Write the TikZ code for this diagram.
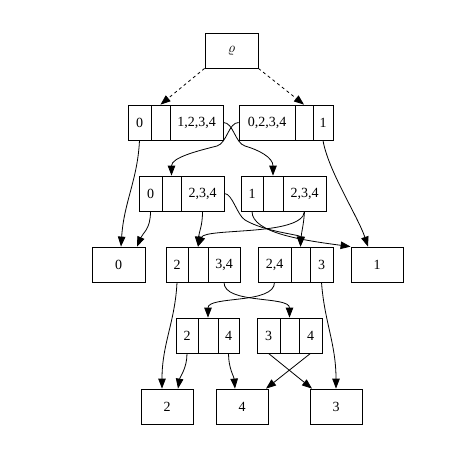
\documentclass[tikz,border=0pt]{standalone}
\usepackage{fontspec}
\setmainfont{Liberation Serif}
\usetikzlibrary{arrows.meta}

\begin{document}
\begin{tikzpicture}[
    x=1pt, y=1pt,
    >={Triangle[length=10pt,width=7.5pt]},
    field/.style={draw, line width=0.8pt, minimum height=35pt, inner sep=0pt,
        font=\fontsize{14}{16}\selectfont},
    edge/.style={->, line width=0.8pt}
]
    \useasboundingbox (0,0) rectangle (476,-455);

    % Root
    \node[field, minimum width=53pt] (root) at (231.5,-50.5) {$\varrho$};

    % Level 1 records
    \node[field, minimum width=23pt] (L1a-0) at (139.5,-122.5) {0};
    \node[field, minimum width=19pt] (L1a-e) at (160.5,-122.5) {};
    \node[field, minimum width=53pt] (L1a-2) at (196.5,-122.5) {1,2,3,4};
    \node[field, minimum width=56pt] (L1b-0) at (267,-122.5) {0,2,3,4};
    \node[field, minimum width=18pt] (L1b-e) at (304,-122.5) {};
    \node[field, minimum width=20pt] (L1b-2) at (323,-122.5) {1};

    % Level 2 records
    \node[field, minimum width=23pt] (L2a-0) at (150.5,-193.5) {0};
    \node[field, minimum width=19pt] (L2a-e) at (171.5,-193.5) {};
    \node[field, minimum width=43pt] (L2a-2) at (202.5,-193.5) {2,3,4};
    \node[field, minimum width=22pt] (L2b-0) at (252,-193.5) {1};
    \node[field, minimum width=20pt] (L2b-e) at (273,-193.5) {};
    \node[field, minimum width=43pt] (L2b-2) at (304.5,-193.5) {2,3,4};

    % Level 3: leaves and records
    \node[field, minimum width=53pt] (leaf0) at (118.5,-264.5) {0};
    \node[field, minimum width=22pt] (L3a-0) at (177,-264.5) {2};
    \node[field, minimum width=20pt] (L3a-e) at (198,-264.5) {};
    \node[field, minimum width=32pt] (L3a-2) at (224,-264.5) {3,4};
    \node[field, minimum width=33pt] (L3b-0) at (274.5,-264.5) {2,4};
    \node[field, minimum width=19pt] (L3b-e) at (300.5,-264.5) {};
    \node[field, minimum width=23pt] (L3b-2) at (321.5,-264.5) {3};
    \node[field, minimum width=52pt] (leaf1) at (377,-264.5) {1};

    % Level 4 records
    \node[field, minimum width=22pt] (L4a-0) at (187,-335.5) {2};
    \node[field, minimum width=20pt] (L4a-e) at (208,-335.5) {};
    \node[field, minimum width=21pt] (L4a-2) at (228.5,-335.5) {4};
    \node[field, minimum width=23pt] (L4b-0) at (268.5,-335.5) {3};
    \node[field, minimum width=19pt] (L4b-e) at (289.5,-335.5) {};
    \node[field, minimum width=23pt] (L4b-2) at (310.5,-335.5) {4};

    % Level 5 leaves
    \node[field, minimum width=52pt] (leaf2) at (167,-406.5) {2};
    \node[field, minimum width=52pt] (leaf4) at (242,-406.5) {4};
    \node[field, minimum width=52pt] (leaf3) at (336,-406.5) {3};

    % Root edges
    \draw[edge, dashed] (root.south west) -- (L1a-e.north);
    \draw[edge, dashed] (root.south east) -- (L1b-e.north);

    % Level 1 -> level 2 / leaves
    \draw[edge] (L1a-0.south) .. controls +(-2,-40) and +(3,45) .. ([xshift=2.5pt]leaf0.north);
    \draw[edge] (L1a-2.east) .. controls +(10,0) and +(-10,3) .. (245,-146)
        .. controls +(14,-4) and +(0,18) .. (L2b-e.north);
    \draw[edge] (L1b-0.west) .. controls +(-10,0) and +(10,3) .. (217,-146)
        .. controls +(-20,-5) and +(0,18) .. (L2a-e.north);
    \draw[edge] (L1b-2.south) .. controls +(5,-30) and +(-10,30) .. ([xshift=-9pt]leaf1.north);

    % Level 2 -> level 3
    \draw[edge] (L2a-0.south) .. controls +(0,-18) and +(6,14) .. ([xshift=18.5pt]leaf0.north);
    \draw[edge] (L2a-2.south) .. controls +(0,-15) and +(1,15) .. (L3a-e.north);
    \draw[edge] (L2a-2.east) .. controls +(8,0) and +(-8,5) .. (245,-220)
        .. controls +(20,-12) and +(0,12) .. (L3b-e.north);
    \draw[edge] (L2b-0.south) .. controls +(0,-22) and +(-45,6) .. (leaf1.north west);
    \draw[edge] (L2b-2.south) .. controls +(-2,-25) and +(7,19) .. (L3a-e.north);
    \draw[edge] (L2b-2.south) .. controls +(-1,-15) and +(1,15) .. (L3b-e.north);

    % Level 3 -> level 4 / leaves
    \draw[edge] (L3a-0.south) .. controls +(-2,-40) and +(0,45) .. ([xshift=-5pt]leaf2.north);
    \draw[edge] (L3a-2.south) .. controls +(0,-22) and +(0,22) .. (L4b-e.north);
    \draw[edge] (L3b-0.south) .. controls +(0,-22) and +(0,22) .. (L4a-e.north);
    \draw[edge] (L3b-2.south) .. controls +(3,-40) and +(0,45) .. (leaf3.north);

    % Level 4 -> leaves
    \draw[edge] (L4a-0.south) .. controls +(0,-15) and +(2,12) .. ([xshift=11pt]leaf2.north);
    \draw[edge] (L4a-2.south) .. controls +(0,-15) and +(-1,12) .. ([xshift=-7pt]leaf4.north);
    \draw[edge] (L4b-0.south) -- ([xshift=-24pt]leaf3.north);
    \draw[edge] (L4b-2.south) -- ([xshift=24pt]leaf4.north);

\end{tikzpicture}
\end{document}
